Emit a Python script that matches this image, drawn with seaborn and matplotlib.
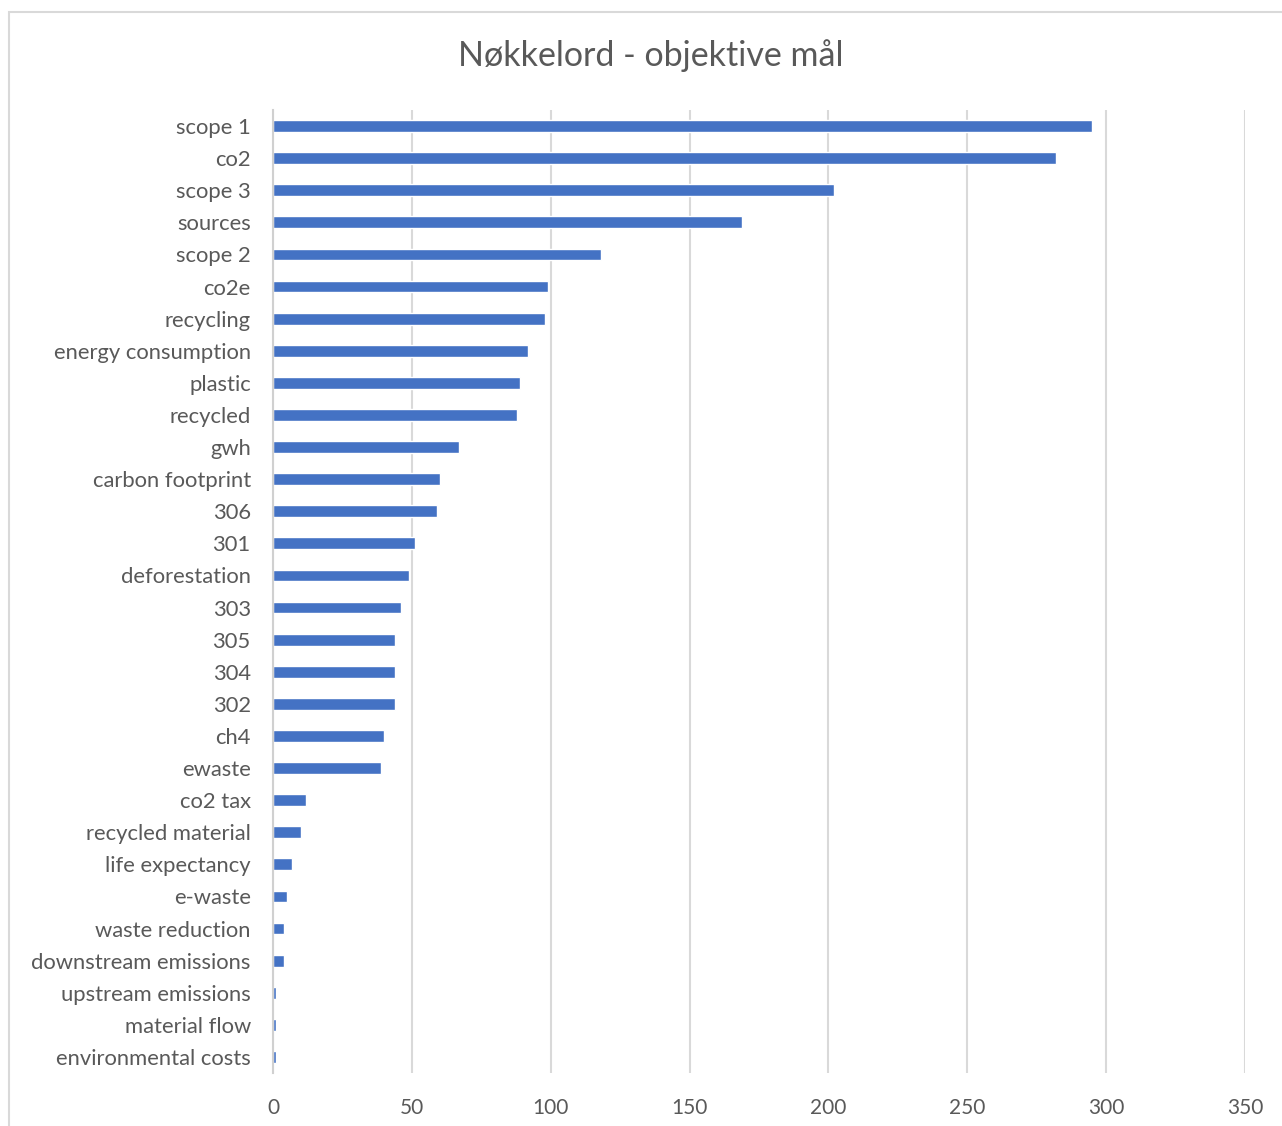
import matplotlib
matplotlib.use("Agg")
import matplotlib.pyplot as plt
from matplotlib.patches import Rectangle
import seaborn as sns
import pandas as pd

keywords = [
    "scope 1", "co2", "scope 3", "sources", "scope 2", "co2e", "recycling",
    "energy consumption", "plastic", "recycled", "gwh", "carbon footprint",
    "306", "301", "deforestation", "303", "305", "304", "302", "ch4", "ewaste",
    "co2 tax", "recycled material", "life expectancy", "e-waste",
    "waste reduction", "downstream emissions", "upstream emissions",
    "material flow", "environmental costs",
]
counts = [
    295, 282, 202, 169, 118, 99, 98, 92, 89, 88, 67, 60, 59, 51, 49, 46, 44,
    44, 44, 40, 39, 12, 10, 7, 5, 4, 4, 1, 1, 1,
]
x_ticks = [0, 50, 100, 150, 200, 250, 300, 350]
title = "Nøkkelord - objektive mål"

df = pd.DataFrame({"keyword": keywords, "count": counts})

sns.set_theme(style="white")
plt.rcParams["font.family"] = ["Lato", "DejaVu Sans"]

W, H = 1282, 1126
fig = plt.figure(figsize=(W / 100, H / 100), dpi=100)
fig.patch.set_facecolor("white")

# chart-area frame
fig.patches.append(Rectangle((9 / W, -0.05), 1.1, 1 - 12 / H + 0.05,
                             transform=fig.transFigure, fill=False,
                             edgecolor="#d9d9d9", linewidth=1.5))

left, right, top, bottom = 273, 1245, 110, 1073
ax = fig.add_axes([left / W, 1 - bottom / H, (right - left) / W, (bottom - top) / H])

sns.barplot(data=df, x="count", y="keyword", orient="h", color="#4472C4",
            width=0.37, saturation=1, ax=ax)

ax.set_xlim(0, 350)
ax.set_xticks(x_ticks)
ax.set_xticklabels([str(t) for t in x_ticks])
ax.grid(axis="x", color="#d9d9d9", linewidth=1.5)
ax.set_axisbelow(True)
for s in ["top", "right", "bottom"]:
    ax.spines[s].set_visible(False)
ax.spines["left"].set_color("#d0d0d0")
ax.spines["left"].set_linewidth(1.5)
ax.tick_params(axis="y", length=0, labelsize=15.8, labelcolor="#595959", pad=16)
ax.tick_params(axis="x", length=0, labelsize=15, labelcolor="#595959", pad=18)
ax.set_xlabel("")
ax.set_ylabel("")

fig.text(651 / W, 1 - 56 / H, title, ha="center", va="center",
         fontsize=24.5, color="#595959")

fig.savefig("out.png", dpi=100, facecolor="white")
